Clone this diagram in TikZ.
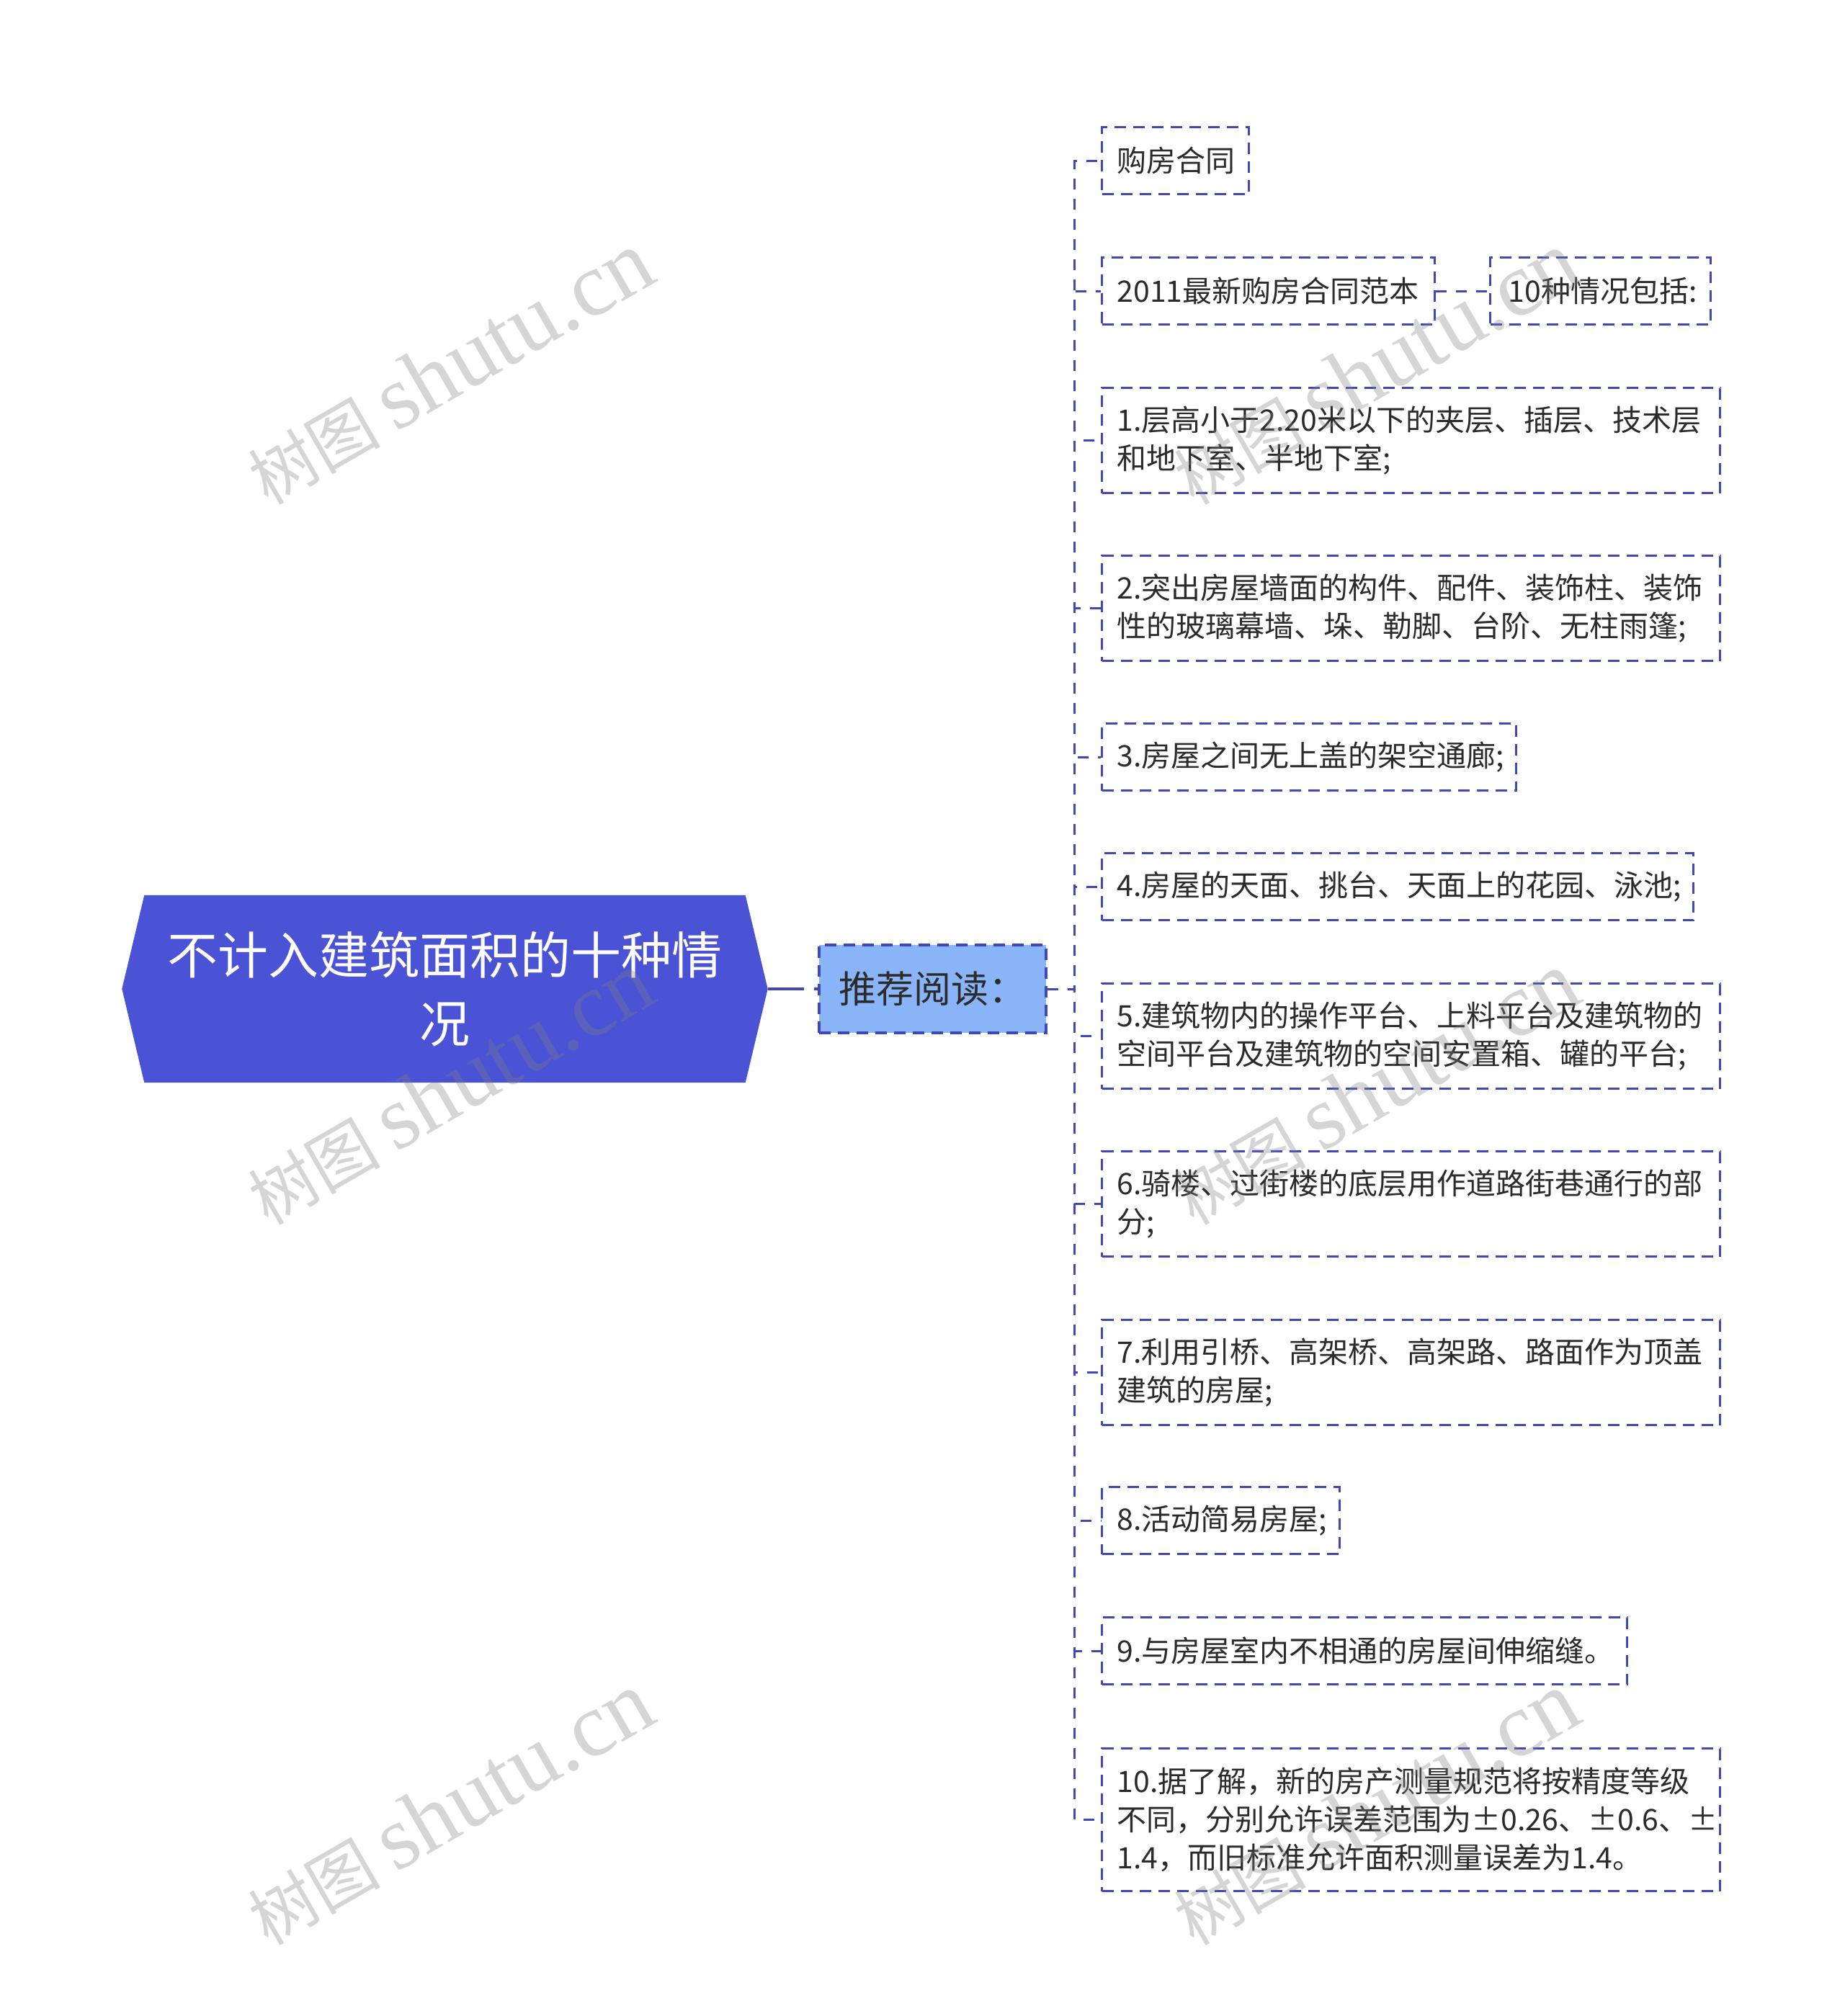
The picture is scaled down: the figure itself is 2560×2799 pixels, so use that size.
\documentclass[tikz,border=0pt]{standalone}
\usepackage{fontspec}
\setmainfont{Noto Sans CJK SC}
\newfontfamily\wmserif{Liberation Serif}
\usetikzlibrary{backgrounds}
\definecolor{rootblue}{RGB}{74,82,214}
\definecolor{lineblue}{RGB}{64,72,184}
\definecolor{recblue}{RGB}{138,180,248}
\definecolor{txtgray}{RGB}{43,43,43}
\begin{document}
\begin{tikzpicture}[x=1pt,y=-1pt,
  leaf/.style={draw=lineblue, line width=3.2pt, dash pattern=on 16pt off 10pt,
    text=txtgray, font=\fontsize{41}{53}\selectfont, align=left, anchor=north west,
    inner xsep=21pt, inner ysep=0pt, text width=#1, minimum height=93pt},
  rootbox/.style={draw=none, minimum width=834pt, minimum height=260pt, inner sep=0pt,
    text=white, align=center, font=\fontsize{70}{95}\selectfont},
  recbox/.style={draw=lineblue, fill=recblue, line width=3.2pt, dash pattern=on 16pt off 10pt,
    minimum width=315pt, minimum height=122pt, inner sep=0pt, text=txtgray,
    font=\fontsize{52}{60}\selectfont},
  conn/.style={draw=lineblue, line width=3pt, dash pattern=on 15pt off 13pt},
  rootlink/.style={draw=lineblue, line width=4.5pt, dash pattern=on 50pt off 14pt on 10pt off 30pt},
  wm/.style={anchor=base west, rotate=30, text=black!50, opacity=0.33,
    font=\fontsize{92}{120}\selectfont, inner sep=0pt}]
\useasboundingbox (0,0) rectangle (2560,2799);
\begin{scope}[on background layer]
  \fill[white] (0,0) rectangle (2560,2799);
\end{scope}

% root
\node[rootbox] (root) at (617.5,1373) {不计入建筑面积的十种情\\况};
\begin{scope}[on background layer]
  \fill[rootblue] ([xshift=-31pt]root.west) -- (root.north west) -- (root.north east)
    -- ([xshift=31pt]root.east) -- (root.south east) -- (root.south west) -- cycle;
\end{scope}
\coordinate (rootR) at ([xshift=31pt]root.east);

% recommended reading
\node[recbox] (rec) at (1294.5,1373) {推荐阅读：};

% leaves
\node[leaf=162pt] (l1) at (1528,175) {购房合同};
\node[leaf=420pt] (l2) at (1528,356) {2011最新购房合同范本};
\node[leaf=256pt, inner xsep=25pt] (l2b) at (2067,356) {10种情况包括:};
\node[leaf=816pt, minimum height=146pt] (l3) at (1528,537) {1.层高小于2.20米以下的夹层、插层、技术层\\和地下室、半地下室;};
\node[leaf=816pt, minimum height=146pt] (l4) at (1528,770) {2.突出房屋墙面的构件、配件、装饰柱、装饰\\性的玻璃幕墙、垛、勒脚、台阶、无柱雨篷;};
\node[leaf=533pt] (l5) at (1528,1003) {3.房屋之间无上盖的架空通廊;};
\node[leaf=779pt] (l6) at (1528,1183) {4.房屋的天面、挑台、天面上的花园、泳池;};
\node[leaf=816pt, minimum height=146pt] (l7) at (1528,1364) {5.建筑物内的操作平台、上料平台及建筑物的\\空间平台及建筑物的空间安置箱、罐的平台;};
\node[leaf=816pt, minimum height=146pt] (l8) at (1528,1597) {6.骑楼、过街楼的底层用作道路街巷通行的部\\分;};
\node[leaf=816pt, minimum height=146pt] (l9) at (1528,1831) {7.利用引桥、高架桥、高架路、路面作为顶盖\\建筑的房屋;};
\node[leaf=288pt] (l10) at (1528,2063) {8.活动简易房屋;};
\node[leaf=687pt] (l11) at (1528,2244) {9.与房屋室内不相通的房屋间伸缩缝。};
\node[leaf=816pt, minimum height=198pt] (l12) at (1528,2426) {10.据了解，新的房产测量规范将按精度等级\\不同，分别允许误差范围为±0.26、±0.6、±\\1.4，而旧标准允许面积测量误差为1.4。};

% connectors
\draw[rootlink] (rootR) -- (rec.west);
\foreach \n in {l1,l2,l3,l4,l5,l6,l7,l8,l9,l10,l11,l12}
  \draw[conn] (rec.east) -- ++(38,0) |- (\n.west);
\draw[conn] (l2.east) -- (l2b.west);

% watermarks
\foreach \y in {703,1703,2703} {
  \node[wm] at (372,\y) {树图 {\wmserif\fontsize{126}{130}\selectfont shutu.cn}};
  \node[wm] at (1657,\y) {树图 {\wmserif\fontsize{126}{130}\selectfont shutu.cn}};
}
\end{tikzpicture}
\end{document}
